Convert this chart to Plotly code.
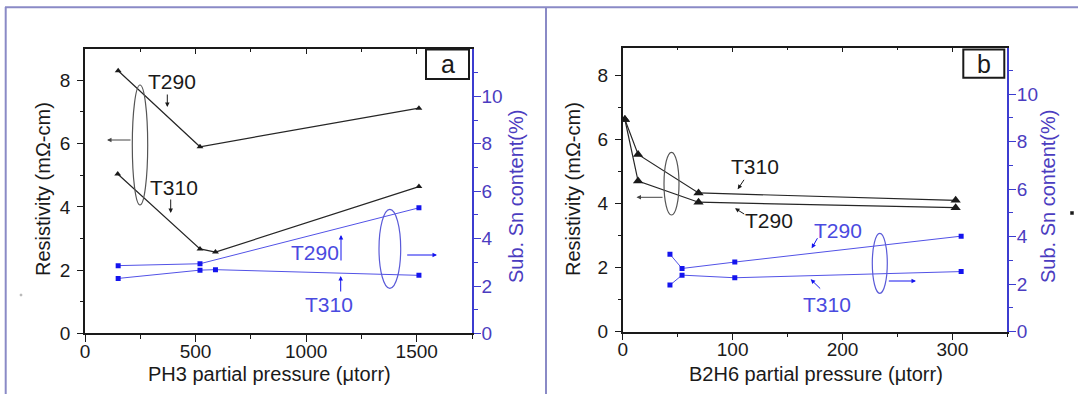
import plotly.graph_objects as go

W, H = 1078, 394

# ---- panel a: PH3 series ----
ph3_t290_x = [150, 520, 1510]
ph3_t290_rho = [8.30, 5.90, 7.12]
ph3_t310_x = [148, 520, 590, 1510]
ph3_t310_rho = [5.04, 2.67, 2.57, 4.64]
ph3_t290_sn_x = [150, 520, 1510]
ph3_t290_sn = [2.86, 2.94, 5.30]
ph3_t310_sn_x = [150, 520, 590, 1510]
ph3_t310_sn = [2.32, 2.67, 2.69, 2.45]

# ---- panel b: B2H6 series ----
b2h6_t310_x = [2, 14, 69, 303]
b2h6_t310_rho = [6.62, 5.53, 4.33, 4.10]
b2h6_t290_x = [2, 14, 69, 303]
b2h6_t290_rho = [6.62, 4.70, 4.04, 3.87]
b2h6_t290_sn_x = [43, 54, 102, 308]
b2h6_t290_sn = [3.26, 2.66, 2.93, 4.02]
b2h6_t310_sn_x = [43, 54, 102, 308]
b2h6_t310_sn = [1.96, 2.38, 2.27, 2.53]

BLACK = "#1a1a1a"
BLUE_LINE = "#5252e6"
BLUE_MK = "#1414ee"
BLUE_AX = "#3c3cd0"
BLUE_TXT = "#4a4ae0"
PURPLE = "#4b3cc0"
FRAME = "#8a8ac6"
FONT = "Liberation Sans, Arial, sans-serif"


def px(x):
    return x / W


def py(y):
    return 1 - y / H


fig = go.Figure()


def line_trace(x, y, xa, ya, color, lcolor, symbol, size, lw):
    fig.add_trace(go.Scatter(
        x=x, y=y, xaxis=xa, yaxis=ya, mode="lines+markers",
        line=dict(color=lcolor, width=lw),
        marker=dict(symbol=symbol, size=size, color=color),
        showlegend=False, hoverinfo="skip"))


# panel a
line_trace(ph3_t290_x, ph3_t290_rho, "x", "y", BLACK, "#262626", "triangle-up", 6, 1.2)
line_trace(ph3_t310_x, ph3_t310_rho, "x", "y", BLACK, "#262626", "triangle-up", 6, 1.2)
line_trace(ph3_t290_sn_x, ph3_t290_sn, "x", "y2", BLUE_MK, BLUE_LINE, "square", 5, 1)
line_trace(ph3_t310_sn_x, ph3_t310_sn, "x", "y2", BLUE_MK, BLUE_LINE, "square", 5, 1)
# panel b
line_trace(b2h6_t310_x, b2h6_t310_rho, "x2", "y3", BLACK, "#262626", "triangle-up", 9, 1.2)
line_trace(b2h6_t290_x, b2h6_t290_rho, "x2", "y3", BLACK, "#262626", "triangle-up", 9, 1.2)
line_trace(b2h6_t290_sn_x, b2h6_t290_sn, "x2", "y4", BLUE_MK, BLUE_LINE, "square", 5, 1)
line_trace(b2h6_t310_sn_x, b2h6_t310_sn, "x2", "y4", BLUE_MK, BLUE_LINE, "square", 5, 1)

# empty traces so the top tick axes are created
for xa, ya in (("x3", "y"), ("x4", "y3")):
    fig.add_trace(go.Scatter(x=[None], y=[None], xaxis=xa, yaxis=ya,
                             showlegend=False, hoverinfo="skip"))

tickfont = dict(family=FONT, size=19, color=BLACK)
bluefont = dict(family=FONT, size=19, color=PURPLE)


def xax(domain, rng, dtick, anchor):
    return dict(domain=domain, range=rng, anchor=anchor, showline=True,
                linecolor=BLACK, linewidth=1.5, ticks="outside", ticklen=7,
                tickwidth=1.2, tickcolor=BLACK, dtick=dtick, tick0=0,
                minor=dict(ticks="outside", ticklen=4, dtick=dtick / 2,
                           tickcolor=BLACK, tickwidth=1.2),
                showgrid=False, zeroline=False, tickfont=tickfont,
                ticklabelstandoff=-7, automargin=False)


def xtop(domain, rng, dtick, anchor, over):
    return dict(domain=domain, range=rng, anchor=anchor, overlaying=over,
                side="top", showline=True, linecolor=BLACK, linewidth=1.5,
                ticks="inside", ticklen=5, tickwidth=1.2, tickcolor=BLACK,
                dtick=dtick, tick0=0,
                minor=dict(ticks="inside", ticklen=3, dtick=dtick / 2,
                           tickcolor=BLACK, tickwidth=1.2),
                showticklabels=False, showgrid=False, zeroline=False,
                automargin=False)


def yleft(domain, rng, anchor):
    return dict(domain=domain, range=rng, anchor=anchor, showline=True,
                linecolor=BLACK, linewidth=1.5, ticks="outside", ticklen=6,
                tickwidth=1.2, tickcolor=BLACK, dtick=2, tick0=0,
                minor=dict(ticks="outside", ticklen=3, dtick=1,
                           tickcolor=BLACK, tickwidth=1.2),
                showgrid=False, zeroline=False, tickfont=tickfont,
                ticklabelstandoff=3, automargin=False)


def yright(rng, anchor, over):
    return dict(range=rng, anchor=anchor, overlaying=over, side="right",
                showline=True, linecolor=BLUE_AX, linewidth=1.5,
                ticks="outside", ticklen=7, tickwidth=1.2, tickcolor=BLUE_AX,
                dtick=2, tick0=0,
                minor=dict(ticks="outside", ticklen=4, dtick=1,
                           tickcolor=BLUE_AX, tickwidth=1.2),
                showgrid=False, zeroline=False, tickfont=bluefont,
                ticklabelstandoff=-3, automargin=False)


dom_ax = [px(85), px(472)]
dom_ay = [py(333.4), py(49.3)]
dom_bx = [px(622.7), px(1007.3)]
dom_by = [py(331.7), py(47.7)]

fig.update_layout(
    template="none",
    width=W, height=H, margin=dict(l=0, r=0, t=0, b=0, pad=0),
    paper_bgcolor="white", plot_bgcolor="white",
    font=dict(family=FONT, color=BLACK),
    xaxis=xax(dom_ax, [0, 1750], 500, "y"),
    yaxis=yleft(dom_ay, [0, 8.98], "x"),
    yaxis2=yright([0, 11.99], "x", "y"),
    xaxis3=xtop(dom_ax, [0, 1750], 500, "y", "x"),
    xaxis2=xax(dom_bx, [0, 350], 100, "y3"),
    yaxis3=yleft(dom_by, [0, 8.86], "x2"),
    yaxis4=yright([0, 11.95], "x2", "y3"),
    xaxis4=xtop(dom_bx, [0, 350], 100, "y3", "x2"),
)

ann = []


def text(x, y, s, size=21, color=BLACK, angle=0):
    ann.append(dict(x=px(x), y=py(y), xref="paper", yref="paper", text=s,
                    showarrow=False, textangle=angle,
                    font=dict(family=FONT, size=size, color=color),
                    xanchor="center", yanchor="middle"))


def arrow(tx, ty, hx, hy, color=BLACK):
    ann.append(dict(x=px(hx), y=py(hy), xref="paper", yref="paper", text="",
                    showarrow=True, ax=tx - hx, ay=ty - hy, axref="pixel",
                    ayref="pixel", arrowhead=2, arrowsize=0.9, arrowwidth=1,
                    arrowcolor=color, standoff=0, startstandoff=0))


# axis titles
text(43, 189, "Resistivity (mΩ-cm)", 20, BLACK, -90)
text(269, 374, "PH3 partial pressure (μtorr)", 20, BLACK)
text(516, 197, "Sub. Sn content(%)", 20, PURPLE, -90)
text(573, 189, "Resistivity (mΩ-cm)", 20, BLACK, -90)
text(816, 374, "B2H6 partial pressure (μtorr)", 20, BLACK)
text(1048, 197, "Sub. Sn content(%)", 20, PURPLE, -90)

# panel a labels and pointers
text(172, 81, "T290")
text(174, 187, "T310")
text(315, 252, "T290", color=BLUE_TXT)
text(329, 304, "T310", color=BLUE_TXT)
arrow(167.3, 93, 167.3, 107)
arrow(132, 140, 107, 140, "#444")
arrow(170.7, 198, 170.7, 213)
arrow(341, 262, 341, 235, BLUE_MK)
arrow(340.7, 293, 340.7, 276, BLUE_MK)
arrow(405.7, 255, 437, 255, BLUE_MK)
text(447.5, 64.5, "a", 25)

# panel b labels and pointers
text(755, 166, "T310")
text(769, 221, "T290")
text(838, 230, "T290", color=BLUE_TXT)
text(827, 304, "T310", color=BLUE_TXT)
arrow(745, 178.3, 737.7, 189.3)
arrow(664, 197.3, 636.5, 197.3, "#444")
arrow(745.7, 215, 735, 208.3)
arrow(818.3, 236.7, 811.7, 248.3, BLUE_MK)
arrow(821.7, 290, 810.7, 279.3, BLUE_MK)
arrow(887.3, 281, 916, 281, BLUE_MK)
text(984, 63.5, "b", 25)

fig.update_layout(annotations=ann)

shapes = []


def ellipse(x0, y0, x1, y1, color):
    shapes.append(dict(type="circle", xref="paper", yref="paper",
                       x0=px(x0), x1=px(x1), y0=py(y1), y1=py(y0),
                       line=dict(color=color, width=1.2)))


def rect(x0, y0, x1, y1, color=BLACK, width=2, fill=None):
    shapes.append(dict(type="rect", xref="paper", yref="paper",
                       x0=px(x0), x1=px(x1), y0=py(y1), y1=py(y0),
                       line=dict(color=color, width=width),
                       fillcolor=fill))


def seg(x0, y0, x1, y1, color, width):
    shapes.append(dict(type="line", xref="paper", yref="paper",
                       x0=px(x0), x1=px(x1), y0=py(y0), y1=py(y1),
                       line=dict(color=color, width=width)))


ellipse(132.3, 85, 147.7, 205, "#555555")
ellipse(379, 209.3, 400.7, 288.3, "#5a5ad8")
ellipse(664, 152.3, 679, 215, "#555555")
ellipse(872.3, 233.3, 887.3, 293.3, "#5a5ad8")

# letter boxes
rect(426, 49.5, 469, 79)
rect(963.3, 49.5, 1004.3, 77.7)

# outer frame
seg(5, 7.3, W, 7.3, FRAME, 2)
seg(5.7, 7, 5.7, H, FRAME, 2)
seg(546, 7, 546, H, FRAME, 2)

# stray specks
rect(1070.5, 211.5, 1073.5, 214.5, BLACK, 0.5, BLACK)
rect(20, 294, 22, 296, "#bbbbbb", 0.5, "#bbbbbb")

fig.update_layout(shapes=shapes)

fig.write_html("out.html")
